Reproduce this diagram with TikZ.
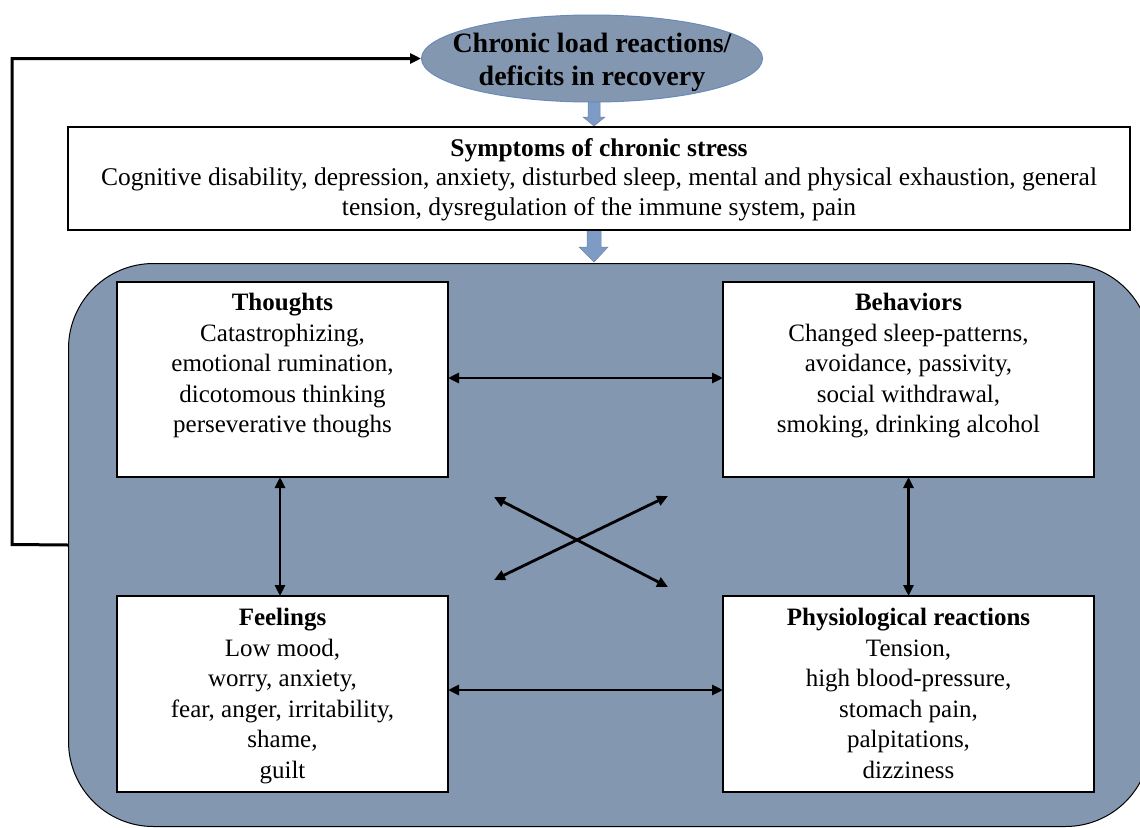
\documentclass[tikz,border=0pt]{standalone}
\usepackage{fontspec}
\setmainfont{Liberation Serif}
\usetikzlibrary{arrows.meta,shapes.geometric,calc}
\definecolor{panel}{RGB}{132,151,176}
\definecolor{blockarrow}{RGB}{125,155,196}
\definecolor{ellborder}{RGB}{105,138,185}
\begin{document}
\begin{tikzpicture}[x=1pt,y=-1pt,
  box/.style={draw=black,line width=1.2pt,fill=white,inner sep=0pt,outer sep=0pt},
  boxtext/.style={align=center,inner sep=0pt,anchor=north,font=\fontsize{25}{30.5}\selectfont},
  link/.style={line width=2.8pt,{Triangle[length=11pt,width=10pt]}-{Triangle[length=11pt,width=10pt]}},
  blockarr/.style={fill=blockarrow,draw=blockarrow!85!black,line width=0.5pt},
]
\useasboundingbox (0,0) rectangle (1140,827);
\fill[white] (0,0) rectangle (1140,827);

% big panel
\node[draw=black,line width=1pt,fill=panel,rounded corners=85pt,minimum width=1082pt,minimum height=563pt,anchor=north west,inner sep=0pt] (panel) at (68,263) {};

% block arrows
\fill[blockarr] (588,96) -- (600,96) -- (600,117) -- (605,117) -- (594,126) -- (583,117) -- (588,117) -- cycle;
\fill[blockarr] (587,230) -- (601,230) -- (601,247) -- (608,247) -- (594,262) -- (579,247) -- (587,247) -- cycle;

% ellipse
\node[ellipse,draw=ellborder,line width=1pt,fill=panel,minimum width=341pt,minimum height=87pt,inner sep=0pt] (ell) at (592,58.5) {};
\node[align=center,inner sep=0pt,font=\bfseries\fontsize{28}{33}\selectfont] (ellT) at (592,62) {Chronic load reactions/\\deficits in recovery};

% symptoms box
\node[box,minimum width=1062pt,minimum height=103pt] (sym) at (599,178.5) {};
\node[align=center,inner sep=0pt,anchor=north,font=\fontsize{25.5}{29.5}\selectfont] (symT) at ($(sym.north)+(0,11)$) {{\bfseries Symptoms of chronic stress}\\Cognitive disability, depression, anxiety, disturbed sleep, mental and physical exhaustion, general\\tension, dysregulation of the immune system, pain};

% four boxes
\node[box,minimum width=331pt,minimum height=195pt] (th) at (282.5,379.5) {};
\node[box,minimum width=371pt,minimum height=195pt] (beh) at (908.5,379.5) {};
\node[box,minimum width=331pt,minimum height=196pt] (fe) at (282.5,694) {};
\node[box,minimum width=371pt,minimum height=196pt] (phy) at (908.5,694) {};

\node[boxtext] (thT) at ($(th.north)+(0,11)$) {{\bfseries Thoughts}\\Catastrophizing,\\emotional rumination,\\dicotomous thinking\\perseverative thoughs};
\node[boxtext] (behT) at ($(beh.north)+(0,11)$) {{\bfseries Behaviors}\\Changed sleep-patterns,\\avoidance, passivity,\\social withdrawal,\\smoking, drinking alcohol};
\node[boxtext] (feT) at ($(fe.north)+(0,12)$) {{\bfseries Feelings}\\Low mood,\\worry, anxiety,\\fear, anger, irritability,\\shame,\\guilt};
\node[boxtext] (phyT) at ($(phy.north)+(0,12)$) {{\bfseries Physiological reactions}\\Tension,\\high blood-pressure,\\stomach pain,\\palpitations,\\dizziness};

% connectors
\draw[link] ([yshift=1.5pt]th.east) -- ([yshift=1.5pt]beh.west);
\draw[link] ([yshift=4pt]fe.east) -- ([yshift=4pt]phy.west);
\draw[link] ([xshift=-2.5pt]th.south) -- ([xshift=-2.5pt]fe.north);
\draw[link] (beh.south) -- (phy.north);

\coordinate (c1) at (494,497);
\coordinate (c2) at (668,587);
\coordinate (c3) at (494,580);
\coordinate (c4) at (668,496);
\draw[link] (c1) -- (c2);
\draw[link] (c3) -- (c4);

% feedback loop
\coordinate (fbL) at (12,544.5);
\coordinate (fbT) at (12,58.5);
\draw[line width=3pt,line join=miter,-{Triangle[length=11pt,width=10pt]}] (panel.west) -- (fbL) -- (fbT) -- (ell.west);
\end{tikzpicture}
\end{document}
